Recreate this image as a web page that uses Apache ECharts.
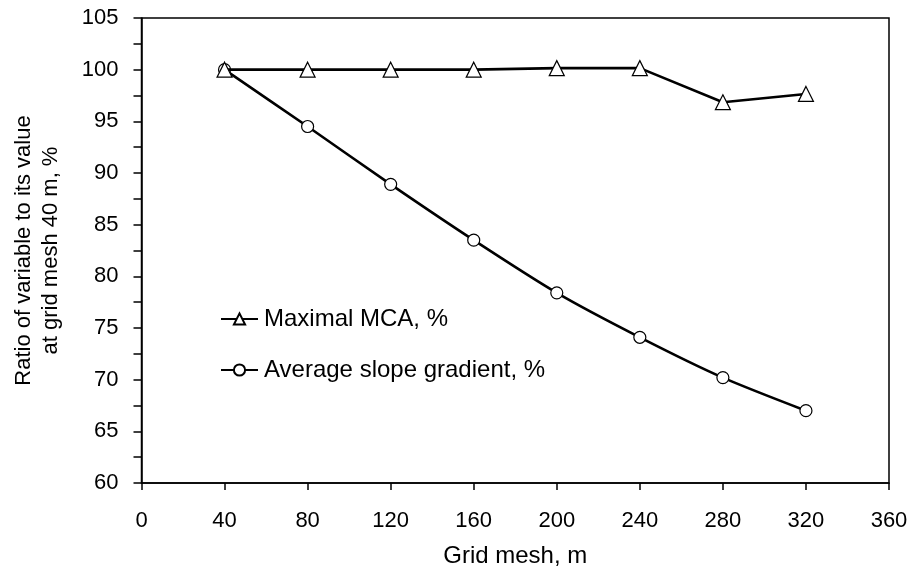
<!DOCTYPE html>
<html><head><meta charset="utf-8">
<script src="https://cdn.jsdelivr.net/npm/echarts@6/dist/echarts.min.js"></script>
<style>html,body{margin:0;padding:0;background:#fff}#c{width:913px;height:571px}</style>
</head><body><div id="c"></div>
<script>
const gridMesh = [40, 80, 120, 160, 200, 240, 280, 320];
const maximalMCA = [100, 100, 100, 100, 100.15, 100.15, 96.85, 97.65];
const avgSlope = [100, 94.5, 88.9, 83.5, 78.4, 74.1, 70.2, 67.0];
const seriesNames = ['Maximal MCA, %', 'Average slope gradient, %'];

const font = 'Liberation Sans, Arial, sans-serif';
const chart = echarts.init(document.getElementById('c'), null, {renderer: 'canvas'});
chart.setOption({
  animation: false,
  backgroundColor: '#fff',
  grid: {left: 141.5, right: 24, top: 18, bottom: 88, show: true, borderColor: '#000', borderWidth: 1.5,
         backgroundColor: 'transparent', containLabel: false, outerBoundsMode: 'none'},
  legend: {
    orient: 'vertical', left: 215, top: 302, itemGap: 27, itemWidth: 37, itemHeight: 14,
    textStyle: {fontFamily: font, fontSize: 24, color: '#000', padding: [0, 0, 0, 1]},
    data: seriesNames
  },
  xAxis: {
    type: 'value', min: 0, max: 360, interval: 40,
    name: 'Grid mesh, m', nameLocation: 'middle', nameGap: 61,
    nameTextStyle: {fontFamily: font, fontSize: 24, color: '#000'},
    axisLine: {onZero: false, lineStyle: {color: '#000', width: 1.5}},
    axisTick: {show: true, inside: false, length: 7, lineStyle: {color: '#000', width: 1.5}},
    axisLabel: {fontFamily: font, fontSize: 22, color: '#000', margin: 27},
    splitLine: {show: false}
  },
  yAxis: {
    type: 'value', min: 60, max: 105, interval: 2.5,
    name: 'Ratio of variable to its value\nat grid mesh 40 m, %', nameLocation: 'middle', nameGap: 77,
    nameTextStyle: {fontFamily: font, fontSize: 22, color: '#000', lineHeight: 27},
    axisLine: {lineStyle: {color: '#000', width: 1.5}},
    axisTick: {show: true, length: 8, lineStyle: {color: '#000', width: 1.5}},
    axisLabel: {fontFamily: font, fontSize: 22, color: '#000', margin: 23,
      formatter: v => (v % 5 === 0 ? String(v) : '')},
    splitLine: {show: false}
  },
  series: [
    {
      name: seriesNames[0], type: 'line',
      data: gridMesh.map((x, i) => [x, maximalMCA[i]]),
      symbol: 'triangle', symbolSize: 15, showAllSymbol: true,
      lineStyle: {color: '#000', width: 2.6},
      itemStyle: {color: '#fff', borderColor: '#000', borderWidth: 1.2},
      z: 3
    },
    {
      name: seriesNames[1], type: 'line', smooth: 0.25,
      data: gridMesh.map((x, i) => [x, avgSlope[i]]),
      symbol: 'circle', symbolSize: 12, showAllSymbol: true,
      lineStyle: {color: '#000', width: 2.6},
      itemStyle: {color: '#fff', borderColor: '#000', borderWidth: 1.2},
      z: 2
    }
  ]
});
</script></body></html>
